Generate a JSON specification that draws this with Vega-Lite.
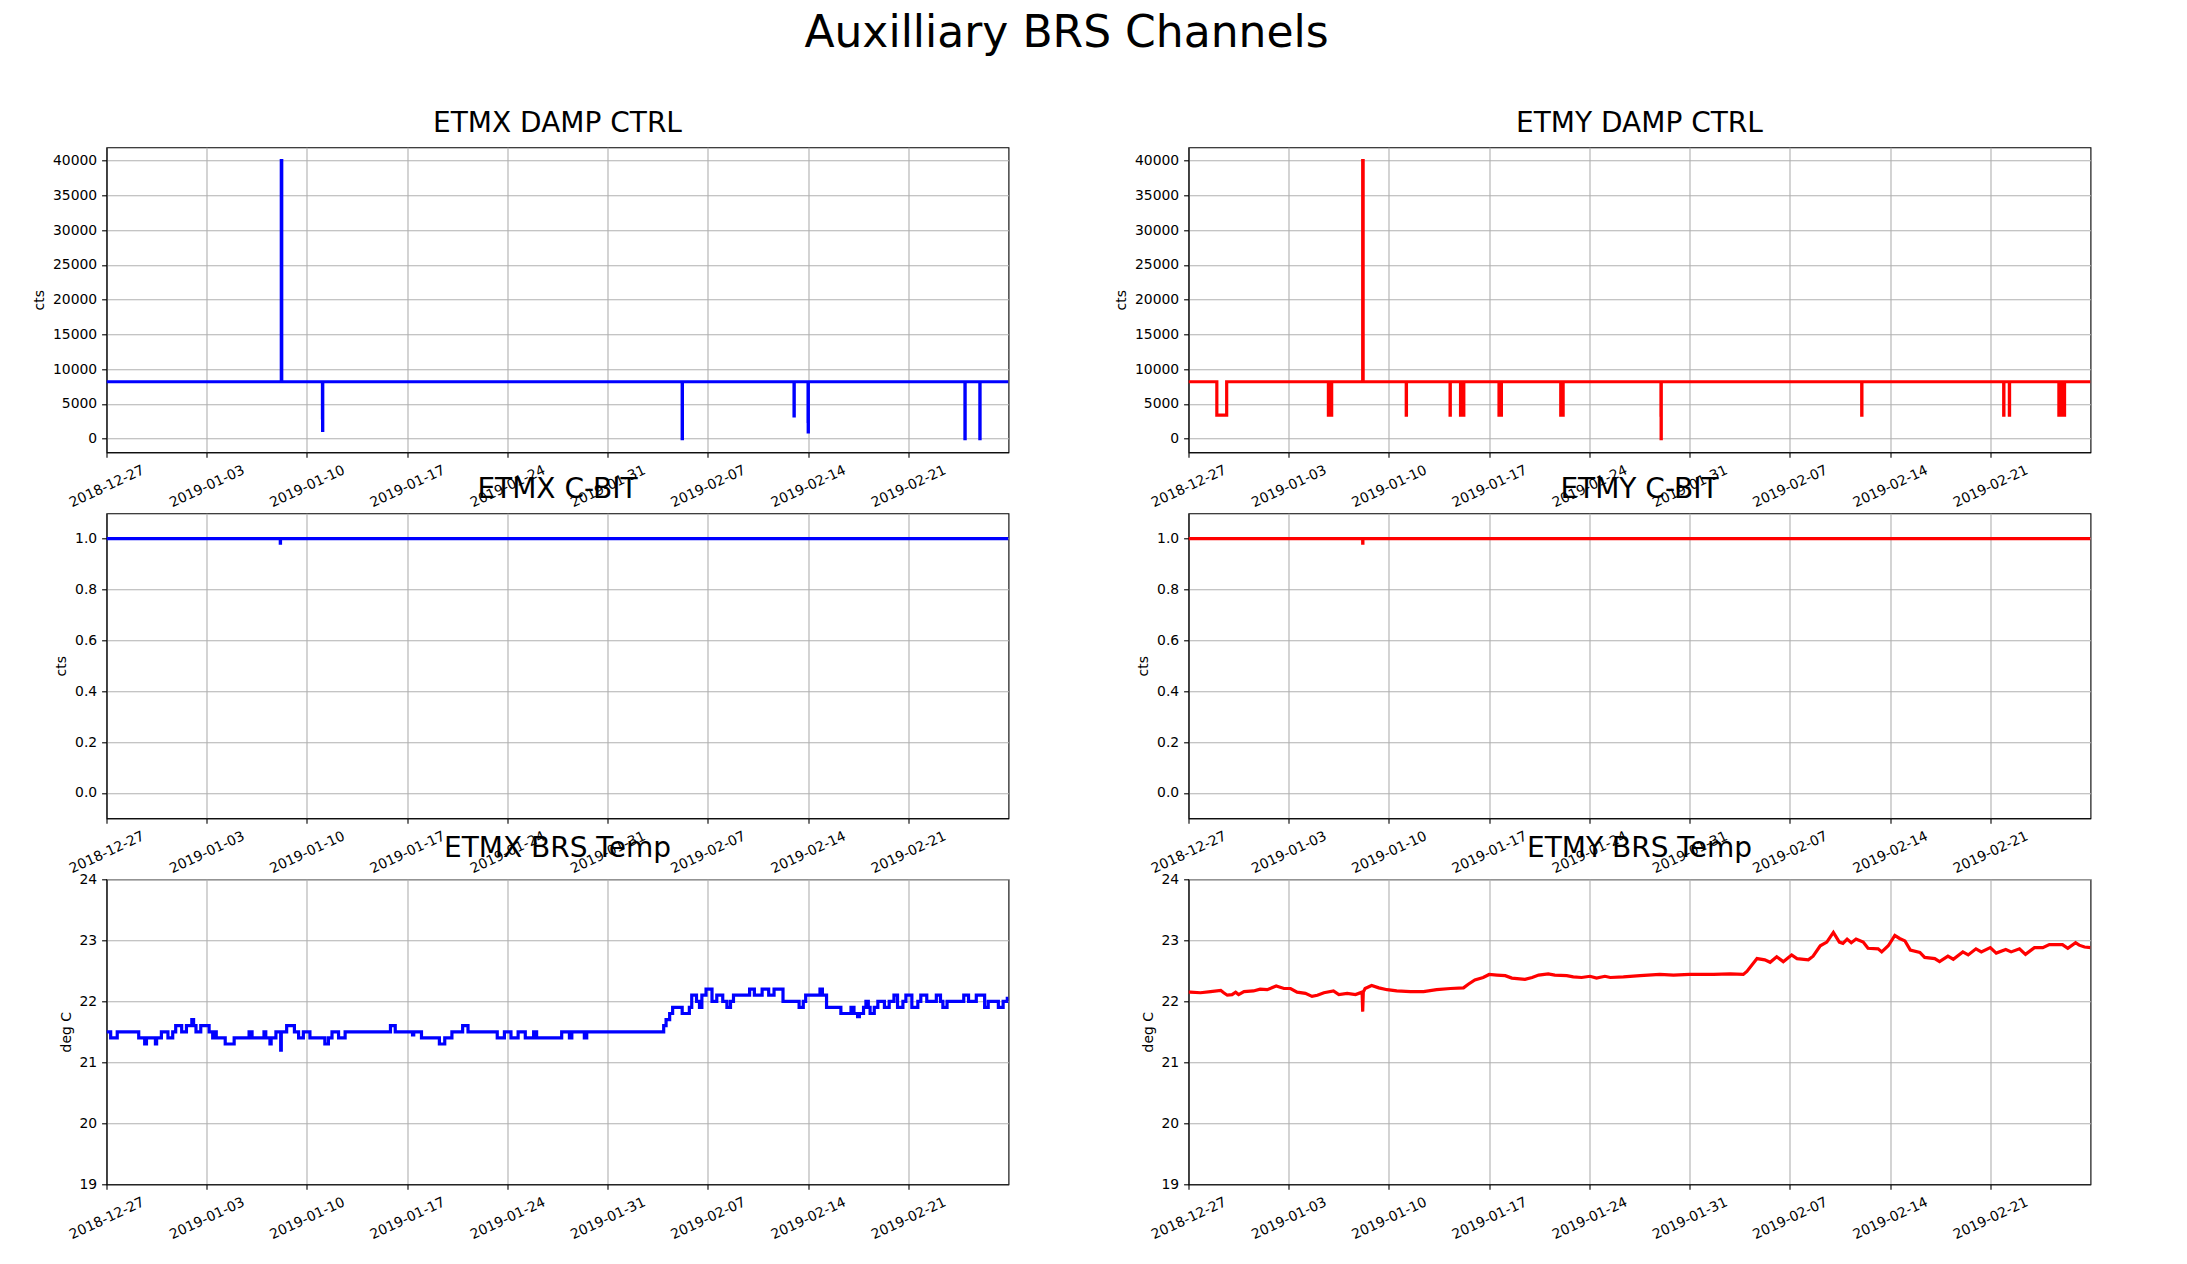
{
  "$schema": "https://vega.github.io/schema/vega-lite/v6.json",
  "autosize": {"type": "none"},
  "padding": {"left": 106.5, "top": 147.3, "right": 2080.5, "bottom": 1116.7},
  "background": "white",
  "title": {
    "text": "Auxilliary BRS Channels",
    "fontSize": 44,
    "frame": "bounds",
    "anchor": "middle",
    "baseline": "alphabetic",
    "offset": 18,
    "dx": 5
  },
  "columns": 2,
  "bounds": "flush",
  "spacing": {"row": 61, "column": 180},
  "datasets": {
    "etmx_damp": [
      {"t": "2018-12-27T00:00", "v": 8192},
      {"t": "2019-01-08T05:00", "v": 40000},
      {"t": "2019-01-08T05:15", "v": 30500},
      {"t": "2019-01-08T05:30", "v": 40000},
      {"t": "2019-01-08T05:45", "v": 8192},
      {"t": "2019-01-11T02:00", "v": 3000},
      {"t": "2019-01-11T02:15", "v": 1200},
      {"t": "2019-01-11T02:30", "v": 8192},
      {"t": "2019-02-05T05:00", "v": 0},
      {"t": "2019-02-05T05:20", "v": 8192},
      {"t": "2019-02-13T00:30", "v": 3300},
      {"t": "2019-02-13T00:50", "v": 8192},
      {"t": "2019-02-14T00:00", "v": 2500},
      {"t": "2019-02-14T00:15", "v": 1000},
      {"t": "2019-02-14T00:30", "v": 8192},
      {"t": "2019-02-24T23:00", "v": 0},
      {"t": "2019-02-24T23:20", "v": 8192},
      {"t": "2019-02-26T00:00", "v": 0},
      {"t": "2019-02-26T00:20", "v": 8192},
      {"t": "2019-02-28T00:00", "v": 8192}
    ],
    "etmy_damp": [
      {"t": "2018-12-27T00:00", "v": 8192},
      {"t": "2018-12-28T23:30", "v": 3400},
      {"t": "2018-12-29T16:00", "v": 8192},
      {"t": "2019-01-05T18:30", "v": 3400},
      {"t": "2019-01-05T20:00", "v": 8192},
      {"t": "2019-01-05T21:00", "v": 3400},
      {"t": "2019-01-05T22:30", "v": 8192},
      {"t": "2019-01-05T23:00", "v": 3400},
      {"t": "2019-01-06T00:00", "v": 8192},
      {"t": "2019-01-08T04:00", "v": 40000},
      {"t": "2019-01-08T04:15", "v": 37000},
      {"t": "2019-01-08T04:30", "v": 40000},
      {"t": "2019-01-08T04:45", "v": 8192},
      {"t": "2019-01-11T05:00", "v": 3400},
      {"t": "2019-01-11T05:20", "v": 8192},
      {"t": "2019-01-14T06:30", "v": 3400},
      {"t": "2019-01-14T06:50", "v": 8192},
      {"t": "2019-01-15T00:00", "v": 3400},
      {"t": "2019-01-15T02:00", "v": 8192},
      {"t": "2019-01-15T03:30", "v": 3400},
      {"t": "2019-01-15T05:30", "v": 8192},
      {"t": "2019-01-17T16:30", "v": 3400},
      {"t": "2019-01-17T18:00", "v": 8192},
      {"t": "2019-01-17T19:00", "v": 3400},
      {"t": "2019-01-17T20:30", "v": 8192},
      {"t": "2019-01-22T00:00", "v": 3400},
      {"t": "2019-01-22T01:30", "v": 8192},
      {"t": "2019-01-22T02:30", "v": 3400},
      {"t": "2019-01-22T04:00", "v": 8192},
      {"t": "2019-01-29T00:00", "v": 3400},
      {"t": "2019-01-29T00:15", "v": 0},
      {"t": "2019-01-29T00:30", "v": 8192},
      {"t": "2019-02-12T00:30", "v": 3400},
      {"t": "2019-02-12T00:50", "v": 8192},
      {"t": "2019-02-21T22:30", "v": 3400},
      {"t": "2019-02-21T22:50", "v": 8192},
      {"t": "2019-02-22T08:00", "v": 3400},
      {"t": "2019-02-22T08:20", "v": 8192},
      {"t": "2019-02-25T19:00", "v": 3400},
      {"t": "2019-02-25T20:30", "v": 8192},
      {"t": "2019-02-25T21:30", "v": 3400},
      {"t": "2019-02-25T23:00", "v": 8192},
      {"t": "2019-02-26T00:00", "v": 3400},
      {"t": "2019-02-26T01:30", "v": 8192},
      {"t": "2019-02-26T02:30", "v": 3400},
      {"t": "2019-02-26T04:30", "v": 8192},
      {"t": "2019-02-28T00:00", "v": 8192}
    ],
    "etmx_cbit": [
      {"t": "2018-12-27T00:00", "v": 1},
      {"t": "2019-01-08T03:20", "v": 0.983},
      {"t": "2019-01-08T03:40", "v": 1},
      {"t": "2019-02-28T00:00", "v": 1}
    ],
    "etmy_cbit": [
      {"t": "2018-12-27T00:00", "v": 1},
      {"t": "2019-01-08T04:00", "v": 0.983},
      {"t": "2019-01-08T04:20", "v": 1},
      {"t": "2019-02-28T00:00", "v": 1}
    ],
    "etmx_temp": [
      {"t": "2018-12-27T00:00", "v": 21.5},
      {"t": "2018-12-27T07:00", "v": 21.4},
      {"t": "2018-12-27T18:00", "v": 21.5},
      {"t": "2018-12-29T06:00", "v": 21.4},
      {"t": "2018-12-29T16:00", "v": 21.3},
      {"t": "2018-12-29T19:00", "v": 21.4},
      {"t": "2018-12-30T10:00", "v": 21.3},
      {"t": "2018-12-30T12:00", "v": 21.4},
      {"t": "2018-12-30T20:00", "v": 21.5},
      {"t": "2018-12-31T07:00", "v": 21.4},
      {"t": "2018-12-31T15:00", "v": 21.5},
      {"t": "2018-12-31T20:00", "v": 21.6},
      {"t": "2019-01-01T06:00", "v": 21.5},
      {"t": "2019-01-01T14:00", "v": 21.6},
      {"t": "2019-01-01T23:00", "v": 21.7},
      {"t": "2019-01-02T02:00", "v": 21.6},
      {"t": "2019-01-02T06:00", "v": 21.5},
      {"t": "2019-01-02T14:00", "v": 21.6},
      {"t": "2019-01-03T04:00", "v": 21.5},
      {"t": "2019-01-03T10:00", "v": 21.4},
      {"t": "2019-01-03T14:00", "v": 21.5},
      {"t": "2019-01-03T16:00", "v": 21.4},
      {"t": "2019-01-04T07:00", "v": 21.3},
      {"t": "2019-01-04T22:00", "v": 21.4},
      {"t": "2019-01-05T23:00", "v": 21.5},
      {"t": "2019-01-06T04:00", "v": 21.4},
      {"t": "2019-01-07T00:00", "v": 21.5},
      {"t": "2019-01-07T03:00", "v": 21.4},
      {"t": "2019-01-07T10:00", "v": 21.3},
      {"t": "2019-01-07T12:00", "v": 21.4},
      {"t": "2019-01-07T20:00", "v": 21.5},
      {"t": "2019-01-08T04:00", "v": 21.2},
      {"t": "2019-01-08T05:00", "v": 21.5},
      {"t": "2019-01-08T14:00", "v": 21.6},
      {"t": "2019-01-09T03:00", "v": 21.5},
      {"t": "2019-01-09T10:00", "v": 21.4},
      {"t": "2019-01-09T18:00", "v": 21.5},
      {"t": "2019-01-10T05:00", "v": 21.4},
      {"t": "2019-01-11T06:00", "v": 21.3},
      {"t": "2019-01-11T12:00", "v": 21.4},
      {"t": "2019-01-11T18:00", "v": 21.5},
      {"t": "2019-01-12T05:00", "v": 21.4},
      {"t": "2019-01-12T16:00", "v": 21.5},
      {"t": "2019-01-15T20:00", "v": 21.6},
      {"t": "2019-01-16T04:00", "v": 21.5},
      {"t": "2019-01-17T09:00", "v": 21.45},
      {"t": "2019-01-17T11:00", "v": 21.5},
      {"t": "2019-01-18T00:00", "v": 21.4},
      {"t": "2019-01-19T06:00", "v": 21.3},
      {"t": "2019-01-19T15:00", "v": 21.4},
      {"t": "2019-01-20T03:00", "v": 21.5},
      {"t": "2019-01-20T21:00", "v": 21.6},
      {"t": "2019-01-21T06:00", "v": 21.5},
      {"t": "2019-01-23T07:00", "v": 21.4},
      {"t": "2019-01-23T19:00", "v": 21.5},
      {"t": "2019-01-24T06:00", "v": 21.4},
      {"t": "2019-01-24T18:00", "v": 21.5},
      {"t": "2019-01-25T06:00", "v": 21.4},
      {"t": "2019-01-25T20:00", "v": 21.5},
      {"t": "2019-01-26T01:00", "v": 21.4},
      {"t": "2019-01-27T19:00", "v": 21.5},
      {"t": "2019-01-28T08:00", "v": 21.4},
      {"t": "2019-01-28T12:00", "v": 21.5},
      {"t": "2019-01-29T09:00", "v": 21.4},
      {"t": "2019-01-29T13:00", "v": 21.5},
      {"t": "2019-02-03T22:00", "v": 21.6},
      {"t": "2019-02-04T02:00", "v": 21.7},
      {"t": "2019-02-04T08:00", "v": 21.8},
      {"t": "2019-02-04T13:00", "v": 21.9},
      {"t": "2019-02-05T05:00", "v": 21.8},
      {"t": "2019-02-05T17:00", "v": 21.9},
      {"t": "2019-02-05T21:00", "v": 22.1},
      {"t": "2019-02-06T05:00", "v": 22.0},
      {"t": "2019-02-06T10:00", "v": 21.9},
      {"t": "2019-02-06T14:00", "v": 22.1},
      {"t": "2019-02-06T21:00", "v": 22.2},
      {"t": "2019-02-07T07:00", "v": 22.0},
      {"t": "2019-02-07T15:00", "v": 22.1},
      {"t": "2019-02-08T01:00", "v": 22.0},
      {"t": "2019-02-08T08:00", "v": 21.9},
      {"t": "2019-02-08T14:00", "v": 22.0},
      {"t": "2019-02-08T19:00", "v": 22.1},
      {"t": "2019-02-09T22:00", "v": 22.2},
      {"t": "2019-02-10T06:00", "v": 22.1},
      {"t": "2019-02-10T19:00", "v": 22.2},
      {"t": "2019-02-11T06:00", "v": 22.1},
      {"t": "2019-02-11T15:00", "v": 22.2},
      {"t": "2019-02-12T06:00", "v": 22.0},
      {"t": "2019-02-13T09:00", "v": 21.9},
      {"t": "2019-02-13T16:00", "v": 22.0},
      {"t": "2019-02-13T20:00", "v": 22.1},
      {"t": "2019-02-14T20:00", "v": 22.2},
      {"t": "2019-02-15T00:00", "v": 22.1},
      {"t": "2019-02-15T07:00", "v": 21.9},
      {"t": "2019-02-16T07:00", "v": 21.8},
      {"t": "2019-02-17T00:00", "v": 21.9},
      {"t": "2019-02-17T05:00", "v": 21.8},
      {"t": "2019-02-17T11:00", "v": 21.75},
      {"t": "2019-02-17T14:00", "v": 21.8},
      {"t": "2019-02-17T21:00", "v": 21.9},
      {"t": "2019-02-18T01:00", "v": 22.0},
      {"t": "2019-02-18T05:00", "v": 21.9},
      {"t": "2019-02-18T08:00", "v": 21.8},
      {"t": "2019-02-18T15:00", "v": 21.9},
      {"t": "2019-02-18T21:00", "v": 22.0},
      {"t": "2019-02-19T08:00", "v": 21.9},
      {"t": "2019-02-19T16:00", "v": 22.0},
      {"t": "2019-02-20T00:00", "v": 22.1},
      {"t": "2019-02-20T06:00", "v": 21.9},
      {"t": "2019-02-20T15:00", "v": 22.0},
      {"t": "2019-02-20T20:00", "v": 22.1},
      {"t": "2019-02-21T06:00", "v": 21.9},
      {"t": "2019-02-21T16:00", "v": 22.0},
      {"t": "2019-02-21T21:00", "v": 22.1},
      {"t": "2019-02-22T07:00", "v": 22.0},
      {"t": "2019-02-22T23:00", "v": 22.1},
      {"t": "2019-02-23T06:00", "v": 22.0},
      {"t": "2019-02-23T10:00", "v": 21.9},
      {"t": "2019-02-23T17:00", "v": 22.0},
      {"t": "2019-02-24T21:00", "v": 22.1},
      {"t": "2019-02-25T05:00", "v": 22.0},
      {"t": "2019-02-25T18:00", "v": 22.1},
      {"t": "2019-02-26T08:00", "v": 21.9},
      {"t": "2019-02-26T14:00", "v": 22.0},
      {"t": "2019-02-27T07:00", "v": 21.9},
      {"t": "2019-02-27T15:00", "v": 22.0},
      {"t": "2019-02-27T22:00", "v": 22.05},
      {"t": "2019-02-28T00:00", "v": 22.05}
    ],
    "etmy_temp": [
      {"t": "2018-12-27T00:00", "v": 22.15},
      {"t": "2018-12-27T03:00", "v": 22.15},
      {"t": "2018-12-27T20:00", "v": 22.14},
      {"t": "2018-12-28T13:00", "v": 22.16},
      {"t": "2018-12-29T06:00", "v": 22.18},
      {"t": "2018-12-29T11:00", "v": 22.14},
      {"t": "2018-12-29T17:00", "v": 22.10},
      {"t": "2018-12-30T01:00", "v": 22.11},
      {"t": "2018-12-30T07:00", "v": 22.15},
      {"t": "2018-12-30T12:00", "v": 22.11},
      {"t": "2018-12-30T21:00", "v": 22.16},
      {"t": "2018-12-31T13:00", "v": 22.17},
      {"t": "2019-01-01T00:00", "v": 22.20},
      {"t": "2019-01-01T12:00", "v": 22.19},
      {"t": "2019-01-02T03:00", "v": 22.25},
      {"t": "2019-01-02T16:00", "v": 22.21},
      {"t": "2019-01-03T03:00", "v": 22.21},
      {"t": "2019-01-03T14:00", "v": 22.15},
      {"t": "2019-01-04T04:00", "v": 22.13},
      {"t": "2019-01-04T15:00", "v": 22.08},
      {"t": "2019-01-05T00:00", "v": 22.10},
      {"t": "2019-01-05T11:00", "v": 22.14},
      {"t": "2019-01-06T03:00", "v": 22.17},
      {"t": "2019-01-06T12:00", "v": 22.11},
      {"t": "2019-01-07T02:00", "v": 22.13},
      {"t": "2019-01-07T16:00", "v": 22.11},
      {"t": "2019-01-08T03:00", "v": 22.15},
      {"t": "2019-01-08T04:00", "v": 21.83},
      {"t": "2019-01-08T05:00", "v": 22.15},
      {"t": "2019-01-08T08:00", "v": 22.21},
      {"t": "2019-01-08T19:00", "v": 22.26},
      {"t": "2019-01-09T07:00", "v": 22.22},
      {"t": "2019-01-09T21:00", "v": 22.19},
      {"t": "2019-01-10T13:00", "v": 22.17},
      {"t": "2019-01-11T12:00", "v": 22.16},
      {"t": "2019-01-12T10:00", "v": 22.16},
      {"t": "2019-01-13T08:00", "v": 22.19},
      {"t": "2019-01-14T07:00", "v": 22.21},
      {"t": "2019-01-15T05:00", "v": 22.22},
      {"t": "2019-01-15T13:00", "v": 22.28},
      {"t": "2019-01-16T00:00", "v": 22.35},
      {"t": "2019-01-16T14:00", "v": 22.39},
      {"t": "2019-01-17T00:00", "v": 22.44},
      {"t": "2019-01-17T13:00", "v": 22.43},
      {"t": "2019-01-18T03:00", "v": 22.42},
      {"t": "2019-01-18T14:00", "v": 22.38},
      {"t": "2019-01-19T12:00", "v": 22.36},
      {"t": "2019-01-20T00:00", "v": 22.39},
      {"t": "2019-01-20T11:00", "v": 22.43},
      {"t": "2019-01-21T03:00", "v": 22.45},
      {"t": "2019-01-21T14:00", "v": 22.43},
      {"t": "2019-01-22T10:00", "v": 22.42},
      {"t": "2019-01-22T21:00", "v": 22.40},
      {"t": "2019-01-23T11:00", "v": 22.39},
      {"t": "2019-01-24T01:00", "v": 22.41},
      {"t": "2019-01-24T12:00", "v": 22.38},
      {"t": "2019-01-25T02:00", "v": 22.41},
      {"t": "2019-01-25T11:00", "v": 22.39},
      {"t": "2019-01-26T09:00", "v": 22.40},
      {"t": "2019-01-27T13:00", "v": 22.42},
      {"t": "2019-01-28T22:00", "v": 22.44},
      {"t": "2019-01-29T21:00", "v": 22.43},
      {"t": "2019-01-31T00:00", "v": 22.44},
      {"t": "2019-01-31T18:00", "v": 22.44},
      {"t": "2019-02-01T16:00", "v": 22.44},
      {"t": "2019-02-02T20:00", "v": 22.45},
      {"t": "2019-02-03T18:00", "v": 22.44},
      {"t": "2019-02-04T00:00", "v": 22.49},
      {"t": "2019-02-04T17:00", "v": 22.70},
      {"t": "2019-02-05T06:00", "v": 22.68},
      {"t": "2019-02-05T15:00", "v": 22.64},
      {"t": "2019-02-06T02:00", "v": 22.73},
      {"t": "2019-02-06T13:00", "v": 22.65},
      {"t": "2019-02-07T03:00", "v": 22.76},
      {"t": "2019-02-07T12:00", "v": 22.70},
      {"t": "2019-02-08T07:00", "v": 22.68},
      {"t": "2019-02-08T15:00", "v": 22.74},
      {"t": "2019-02-09T03:00", "v": 22.91},
      {"t": "2019-02-09T14:00", "v": 22.97},
      {"t": "2019-02-10T01:00", "v": 23.13},
      {"t": "2019-02-10T11:00", "v": 22.97},
      {"t": "2019-02-10T17:00", "v": 22.95},
      {"t": "2019-02-11T00:00", "v": 23.02},
      {"t": "2019-02-11T07:00", "v": 22.96},
      {"t": "2019-02-11T15:00", "v": 23.02},
      {"t": "2019-02-12T03:00", "v": 22.97},
      {"t": "2019-02-12T11:00", "v": 22.87},
      {"t": "2019-02-13T04:00", "v": 22.86},
      {"t": "2019-02-13T10:00", "v": 22.81},
      {"t": "2019-02-13T21:00", "v": 22.91},
      {"t": "2019-02-14T08:00", "v": 23.08},
      {"t": "2019-02-14T16:00", "v": 23.03},
      {"t": "2019-02-15T01:00", "v": 22.99},
      {"t": "2019-02-15T10:00", "v": 22.84},
      {"t": "2019-02-16T02:00", "v": 22.80},
      {"t": "2019-02-16T10:00", "v": 22.72},
      {"t": "2019-02-17T03:00", "v": 22.70},
      {"t": "2019-02-17T11:00", "v": 22.65},
      {"t": "2019-02-18T01:00", "v": 22.74},
      {"t": "2019-02-18T10:00", "v": 22.69},
      {"t": "2019-02-19T02:00", "v": 22.81},
      {"t": "2019-02-19T11:00", "v": 22.76},
      {"t": "2019-02-20T00:00", "v": 22.86},
      {"t": "2019-02-20T09:00", "v": 22.81},
      {"t": "2019-02-21T00:00", "v": 22.88},
      {"t": "2019-02-21T10:00", "v": 22.79},
      {"t": "2019-02-22T02:00", "v": 22.85},
      {"t": "2019-02-22T11:00", "v": 22.81},
      {"t": "2019-02-23T01:00", "v": 22.86},
      {"t": "2019-02-23T11:00", "v": 22.77},
      {"t": "2019-02-24T02:00", "v": 22.88},
      {"t": "2019-02-24T16:00", "v": 22.88},
      {"t": "2019-02-25T03:00", "v": 22.93},
      {"t": "2019-02-26T01:00", "v": 22.93},
      {"t": "2019-02-26T10:00", "v": 22.87},
      {"t": "2019-02-26T23:00", "v": 22.96},
      {"t": "2019-02-27T05:00", "v": 22.92},
      {"t": "2019-02-27T14:00", "v": 22.89},
      {"t": "2019-02-28T00:00", "v": 22.88}
    ]
  },
  "concat": [
    {
      "title": "ETMX DAMP CTRL",
      "width": 902,
      "height": 305,
      "data": {"name": "etmx_damp"},
      "mark": {"type": "line", "interpolate": "step-after", "color": "#0000ff", "strokeWidth": 3.2, "clip": true},
      "encoding": {
        "x": {"field": "t", "type": "temporal",
          "scale": {"domain": [{"year": 2018, "month": 12, "date": 27}, {"year": 2019, "month": 2, "date": 28}]},
          "axis": {"values": [{"year": 2018, "month": 12, "date": 27}, {"year": 2019, "month": 1, "date": 3}, {"year": 2019, "month": 1, "date": 10}, {"year": 2019, "month": 1, "date": 17}, {"year": 2019, "month": 1, "date": 24}, {"year": 2019, "month": 1, "date": 31}, {"year": 2019, "month": 2, "date": 7}, {"year": 2019, "month": 2, "date": 14}, {"year": 2019, "month": 2, "date": 21}]}},
        "y": {"field": "v", "type": "quantitative",
          "scale": {"domain": [-1950, 41900], "nice": false, "zero": false},
          "axis": {"title": "cts", "values": [0, 5000, 10000, 15000, 20000, 25000, 30000, 35000, 40000], "format": "d"}}
      }
    },
    {
      "title": "ETMY DAMP CTRL",
      "width": 902,
      "height": 305,
      "data": {"name": "etmy_damp"},
      "mark": {"type": "line", "interpolate": "step-after", "color": "#ff0000", "strokeWidth": 3.2, "clip": true},
      "encoding": {
        "x": {"field": "t", "type": "temporal",
          "scale": {"domain": [{"year": 2018, "month": 12, "date": 27}, {"year": 2019, "month": 2, "date": 28}]},
          "axis": {"values": [{"year": 2018, "month": 12, "date": 27}, {"year": 2019, "month": 1, "date": 3}, {"year": 2019, "month": 1, "date": 10}, {"year": 2019, "month": 1, "date": 17}, {"year": 2019, "month": 1, "date": 24}, {"year": 2019, "month": 1, "date": 31}, {"year": 2019, "month": 2, "date": 7}, {"year": 2019, "month": 2, "date": 14}, {"year": 2019, "month": 2, "date": 21}]}},
        "y": {"field": "v", "type": "quantitative",
          "scale": {"domain": [-1950, 41900], "nice": false, "zero": false},
          "axis": {"title": "cts", "values": [0, 5000, 10000, 15000, 20000, 25000, 30000, 35000, 40000], "format": "d"}}
      }
    },
    {
      "title": "ETMX C-BIT",
      "width": 902,
      "height": 305,
      "data": {"name": "etmx_cbit"},
      "mark": {"type": "line", "interpolate": "step-after", "color": "#0000ff", "strokeWidth": 3.2, "clip": true},
      "encoding": {
        "x": {"field": "t", "type": "temporal",
          "scale": {"domain": [{"year": 2018, "month": 12, "date": 27}, {"year": 2019, "month": 2, "date": 28}]},
          "axis": {"values": [{"year": 2018, "month": 12, "date": 27}, {"year": 2019, "month": 1, "date": 3}, {"year": 2019, "month": 1, "date": 10}, {"year": 2019, "month": 1, "date": 17}, {"year": 2019, "month": 1, "date": 24}, {"year": 2019, "month": 1, "date": 31}, {"year": 2019, "month": 2, "date": 7}, {"year": 2019, "month": 2, "date": 14}, {"year": 2019, "month": 2, "date": 21}]}},
        "y": {"field": "v", "type": "quantitative",
          "scale": {"domain": [-0.1, 1.1], "nice": false, "zero": false},
          "axis": {"title": "cts", "values": [0, 0.2, 0.4, 0.6, 0.8, 1.0], "format": ".1f"}}
      }
    },
    {
      "title": "ETMY C-BIT",
      "width": 902,
      "height": 305,
      "data": {"name": "etmy_cbit"},
      "mark": {"type": "line", "interpolate": "step-after", "color": "#ff0000", "strokeWidth": 3.2, "clip": true},
      "encoding": {
        "x": {"field": "t", "type": "temporal",
          "scale": {"domain": [{"year": 2018, "month": 12, "date": 27}, {"year": 2019, "month": 2, "date": 28}]},
          "axis": {"values": [{"year": 2018, "month": 12, "date": 27}, {"year": 2019, "month": 1, "date": 3}, {"year": 2019, "month": 1, "date": 10}, {"year": 2019, "month": 1, "date": 17}, {"year": 2019, "month": 1, "date": 24}, {"year": 2019, "month": 1, "date": 31}, {"year": 2019, "month": 2, "date": 7}, {"year": 2019, "month": 2, "date": 14}, {"year": 2019, "month": 2, "date": 21}]}},
        "y": {"field": "v", "type": "quantitative",
          "scale": {"domain": [-0.1, 1.1], "nice": false, "zero": false},
          "axis": {"title": "cts", "values": [0, 0.2, 0.4, 0.6, 0.8, 1.0], "format": ".1f"}}
      }
    },
    {
      "title": "ETMX BRS Temp",
      "width": 902,
      "height": 305,
      "data": {"name": "etmx_temp"},
      "mark": {"type": "line", "interpolate": "step-after", "color": "#0000ff", "strokeWidth": 3.2, "clip": true},
      "encoding": {
        "x": {"field": "t", "type": "temporal",
          "scale": {"domain": [{"year": 2018, "month": 12, "date": 27}, {"year": 2019, "month": 2, "date": 28}]},
          "axis": {"values": [{"year": 2018, "month": 12, "date": 27}, {"year": 2019, "month": 1, "date": 3}, {"year": 2019, "month": 1, "date": 10}, {"year": 2019, "month": 1, "date": 17}, {"year": 2019, "month": 1, "date": 24}, {"year": 2019, "month": 1, "date": 31}, {"year": 2019, "month": 2, "date": 7}, {"year": 2019, "month": 2, "date": 14}, {"year": 2019, "month": 2, "date": 21}]}},
        "y": {"field": "v", "type": "quantitative",
          "scale": {"domain": [19, 24], "nice": false, "zero": false},
          "axis": {"title": "deg C", "values": [19, 20, 21, 22, 23, 24], "format": "d"}}
      }
    },
    {
      "title": "ETMY BRS Temp",
      "width": 902,
      "height": 305,
      "data": {"name": "etmy_temp"},
      "mark": {"type": "line", "color": "#ff0000", "strokeWidth": 3.2, "clip": true},
      "encoding": {
        "x": {"field": "t", "type": "temporal",
          "scale": {"domain": [{"year": 2018, "month": 12, "date": 27}, {"year": 2019, "month": 2, "date": 28}]},
          "axis": {"values": [{"year": 2018, "month": 12, "date": 27}, {"year": 2019, "month": 1, "date": 3}, {"year": 2019, "month": 1, "date": 10}, {"year": 2019, "month": 1, "date": 17}, {"year": 2019, "month": 1, "date": 24}, {"year": 2019, "month": 1, "date": 31}, {"year": 2019, "month": 2, "date": 7}, {"year": 2019, "month": 2, "date": 14}, {"year": 2019, "month": 2, "date": 21}]}},
        "y": {"field": "v", "type": "quantitative",
          "scale": {"domain": [19, 24], "nice": false, "zero": false},
          "axis": {"title": "deg C", "values": [19, 20, 21, 22, 23, 24], "format": "d"}}
      }
    }
  ],
  "config": {
    "font": "DejaVu Sans",
    "view": {"stroke": "#000000", "strokeWidth": 1.1},
    "axis": {
      "grid": true,
      "gridColor": "#b0b0b0",
      "gridWidth": 1.1,
      "domainColor": "#000000",
      "domainWidth": 1.1,
      "tickColor": "#000000",
      "tickSize": 4.9,
      "tickWidth": 1.1,
      "labelFont": "DejaVu Sans",
      "labelFontSize": 13.9,
      "labelColor": "#000000",
      "labelPadding": 4.9,
      "labelOverlap": false,
      "labelFlush": false,
      "titleFont": "DejaVu Sans",
      "titleFontSize": 13.9,
      "titleFontWeight": "normal",
      "titleColor": "#000000",
      "titlePadding": 6
    },
    "axisX": {
      "title": null,
      "format": "%Y-%m-%d",
      "labelAngle": -25,
      "labelAlign": "center",
      "labelBaseline": "middle",
      "labelPadding": 29
    },
    "title": {
      "font": "DejaVu Sans",
      "fontSize": 28,
      "fontWeight": "normal",
      "color": "#000000",
      "anchor": "middle",
      "baseline": "alphabetic",
      "offset": 9.6
    }
  }
}
